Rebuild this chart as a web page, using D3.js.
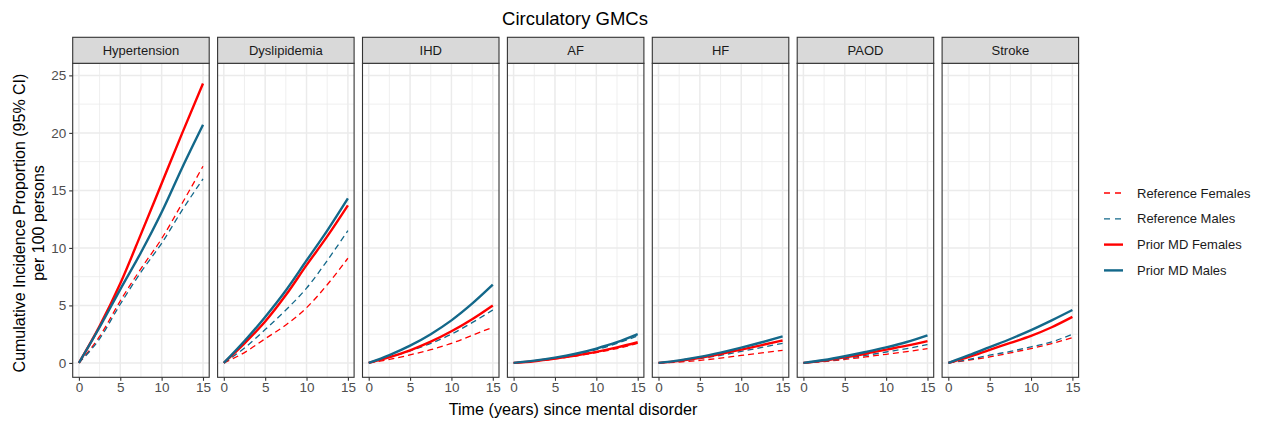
<!DOCTYPE html>
<html>
<head>
<meta charset="utf-8">
<script src="https://cdn.jsdelivr.net/npm/d3@7"></script>
<style>
  html, body { margin: 0; padding: 0; background: #fff; }
  svg { display: block; font-family: "Liberation Sans", Arial, sans-serif; }
</style>
</head>
<body>
<svg id="chart" width="1263" height="421"></svg>
<script>
// ---- data ----
const panels = ["Hypertension", "Dyslipidemia", "IHD", "AF", "HF", "PAOD", "Stroke"];
const timePoints = [0, 2.5, 5, 7.5, 10, 12.5, 15];
const xTicks = [0, 5, 10, 15];
const yTicks = [0, 5, 10, 15, 20, 25];
const seriesNames = ["Reference Females", "Reference Males", "Prior MD Females", "Prior MD Males"];

// values per panel (same order as panels), at timePoints
const refFemales = [
  [0, 2.3, 5.4, 8.2, 10.8, 13.9, 17.1],
  [0, 0.9, 2.1, 3.3, 4.8, 6.8, 9.1],
  [0, 0.3, 0.7, 1.15, 1.7, 2.4, 3.1],
  [0, 0.14, 0.35, 0.6, 0.9, 1.25, 1.7],
  [0, 0.08, 0.22, 0.42, 0.65, 0.88, 1.1],
  [0, 0.12, 0.3, 0.52, 0.75, 0.98, 1.25],
  [0, 0.25, 0.52, 0.87, 1.25, 1.68, 2.2]
];
const refMales = [
  [0, 2.1, 5.1, 7.9, 10.4, 13.3, 16.0],
  [0, 1.3, 2.9, 4.6, 6.5, 8.9, 11.5],
  [0, 0.48, 1.05, 1.7, 2.5, 3.5, 4.6],
  [0, 0.18, 0.42, 0.75, 1.15, 1.7, 2.35],
  [0, 0.15, 0.38, 0.66, 1.0, 1.35, 1.7],
  [0, 0.16, 0.38, 0.65, 0.95, 1.25, 1.6],
  [0, 0.3, 0.67, 1.0, 1.4, 1.83, 2.5]
];
const mdFemales = [
  [0, 3.2, 6.9, 11.2, 15.6, 20.0, 24.3],
  [0, 1.7, 3.6, 5.9, 8.5, 11.0, 13.7],
  [0, 0.5, 1.1, 1.85, 2.75, 3.8, 5.0],
  [0, 0.15, 0.38, 0.65, 0.96, 1.35, 1.8],
  [0, 0.18, 0.45, 0.78, 1.16, 1.55, 1.95],
  [0, 0.2, 0.48, 0.8, 1.16, 1.5, 1.9],
  [0, 0.52, 1.14, 1.74, 2.35, 3.1, 4.0]
];
const mdMales = [
  [0, 3.1, 6.4, 9.6, 13.1, 17.0, 20.7],
  [0, 1.9, 4.0, 6.3, 8.9, 11.5, 14.3],
  [0, 0.68, 1.5, 2.5, 3.7, 5.15, 6.8],
  [0, 0.2, 0.46, 0.8, 1.25, 1.8, 2.5],
  [0, 0.22, 0.52, 0.9, 1.33, 1.8, 2.3],
  [0, 0.25, 0.58, 0.95, 1.35, 1.82, 2.4],
  [0, 0.67, 1.38, 2.08, 2.85, 3.7, 4.6]
];
const seriesValues = [refFemales, refMales, mdFemales, mdMales];
const seriesColors = ["#FF0000", "#13688A", "#FF0000", "#13688A"];
const seriesDash = ["6,4", "6,4", null, null];
const seriesWidth = [1.3, 1.3, 2.4, 2.4];

// ---- layout ----
const svg = d3.select("#chart");
const panelLeft0 = 72.7, panelStep = 144.9, panelW = 136.5;
const stripTop = 37.3, stripH = 26, plotTop = 63.3, plotBottom = 377.3;
const FONT = "Liberation Sans, Arial, sans-serif";

const y = d3.scaleLinear().domain([-1.25, 26.05]).range([plotBottom, plotTop]);

svg.append("text").attr("x", 575).attr("y", 25).attr("text-anchor", "middle")
  .attr("font-size", 18.5).attr("fill", "#000").text("Circulatory GMCs");

const defs = svg.append("defs");

panels.forEach((name, i) => {
  const left = panelLeft0 + i * panelStep;
  const x = d3.scaleLinear().domain([-0.75, 15.75]).range([left, left + panelW]);
  const g = svg.append("g");

  g.append("rect").attr("x", left).attr("y", plotTop).attr("width", panelW)
    .attr("height", plotBottom - plotTop).attr("fill", "#fff");

  const xMinor = [2.5, 7.5, 12.5];
  const yMinor = [2.5, 7.5, 12.5, 17.5, 22.5];
  g.selectAll(".xmin").data(xMinor).enter().append("line")
    .attr("x1", d => x(d)).attr("x2", d => x(d)).attr("y1", plotTop).attr("y2", plotBottom)
    .attr("stroke", "#EBEBEB").attr("stroke-width", 0.8);
  g.selectAll(".ymin").data(yMinor).enter().append("line")
    .attr("y1", d => y(d)).attr("y2", d => y(d)).attr("x1", left).attr("x2", left + panelW)
    .attr("stroke", "#EBEBEB").attr("stroke-width", 0.8);
  g.selectAll(".xmaj").data(xTicks).enter().append("line")
    .attr("x1", d => x(d)).attr("x2", d => x(d)).attr("y1", plotTop).attr("y2", plotBottom)
    .attr("stroke", "#EBEBEB").attr("stroke-width", 1.5);
  g.selectAll(".ymaj").data(yTicks).enter().append("line")
    .attr("y1", d => y(d)).attr("y2", d => y(d)).attr("x1", left).attr("x2", left + panelW)
    .attr("stroke", "#EBEBEB").attr("stroke-width", 1.5);

  defs.append("clipPath").attr("id", "clip" + i).append("rect")
    .attr("x", left).attr("y", plotTop).attr("width", panelW).attr("height", plotBottom - plotTop);

  const line = d3.line().x(d => x(d[0])).y(d => y(d[1])).curve(d3.curveMonotoneX);
  const lg = g.append("g").attr("clip-path", "url(#clip" + i + ")");
  seriesValues.forEach((vals, s) => {
    const pts = timePoints.map((t, k) => [t, vals[i][k]]);
    const p = lg.append("path").attr("d", line(pts)).attr("fill", "none")
      .attr("stroke", seriesColors[s]).attr("stroke-width", seriesWidth[s]);
    if (seriesDash[s]) p.attr("stroke-dasharray", seriesDash[s]);
  });

  g.append("rect").attr("x", left).attr("y", plotTop).attr("width", panelW)
    .attr("height", plotBottom - plotTop).attr("fill", "none").attr("stroke", "#333333").attr("stroke-width", 1.1);

  g.append("rect").attr("x", left).attr("y", stripTop).attr("width", panelW).attr("height", stripH)
    .attr("fill", "#D9D9D9").attr("stroke", "#333333").attr("stroke-width", 1.1);
  g.append("text").attr("x", left + panelW / 2).attr("y", stripTop + stripH / 2 + 4.5)
    .attr("text-anchor", "middle").attr("font-size", 13).attr("fill", "#1A1A1A").text(name);

  const xAxis = d3.axisBottom(x).tickValues(xTicks).tickSize(3.5).tickPadding(2).tickFormat(d3.format("d"));
  const xa = g.append("g").attr("transform", `translate(0,${plotBottom})`).call(xAxis);
  xa.select(".domain").remove();
  xa.selectAll("line").attr("stroke", "#333333").attr("stroke-width", 1.1);
  xa.selectAll("text").attr("font-size", 13.5).attr("fill", "#4D4D4D").attr("font-family", FONT);

  if (i === 0) {
    const yAxis = d3.axisLeft(y).tickValues(yTicks).tickSize(3.5).tickPadding(3);
    const ya = g.append("g").attr("transform", `translate(${left},0)`).call(yAxis);
    ya.select(".domain").remove();
    ya.selectAll("line").attr("stroke", "#333333").attr("stroke-width", 1.1);
    ya.selectAll("text").attr("font-size", 13.5).attr("fill", "#4D4D4D").attr("font-family", FONT);
  }
});

svg.append("text").attr("x", 573).attr("y", 415).attr("text-anchor", "middle")
  .attr("font-size", 16.2).attr("fill", "#000").text("Time (years) since mental disorder");
const yt = svg.append("text").attr("transform", "translate(25,223) rotate(-90)")
  .attr("text-anchor", "middle").attr("font-size", 16).attr("fill", "#000");
yt.append("tspan").attr("x", 0).attr("dy", 0).text("Cumulative Incidence Proportion (95% CI)");
yt.append("tspan").attr("x", 0).attr("dy", 18.5).text("per 100 persons");

const legend = svg.append("g");
seriesNames.forEach((n, s) => {
  const yy = 193 + s * 25.8;
  const l = legend.append("line").attr("x1", 1104).attr("x2", 1123).attr("y1", yy).attr("y2", yy)
    .attr("stroke", seriesColors[s]).attr("stroke-width", seriesWidth[s]);
  if (seriesDash[s]) l.attr("stroke-dasharray", "6,5");
  legend.append("text").attr("x", 1137).attr("y", yy + 4.5).attr("font-size", 13)
    .attr("fill", "#1A1A1A").text(n);
});
</script>
</body>
</html>
